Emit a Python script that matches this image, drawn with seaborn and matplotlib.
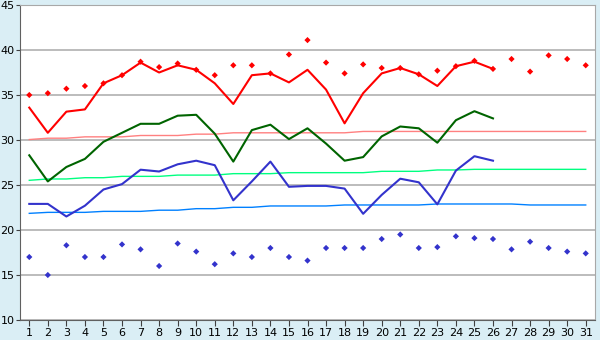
import numpy as np
import pandas as pd
import matplotlib
matplotlib.use('Agg')
import matplotlib.pyplot as plt
import seaborn as sns

# days of month
days = list(range(1, 32))

# daily max / mean / min (days 1-26)
t_max = [33.6, 30.8, 33.15, 33.4, 36.3, 37.2, 38.6, 37.5, 38.3, 37.8,
         36.3, 34.0, 37.2, 37.4, 36.4, 37.8, 35.6, 31.85, 35.2, 37.4,
         38.0, 37.3, 36.0, 38.2, 38.7, 37.9]
t_mean = [28.3, 25.4, 27.0, 27.9, 29.8, 30.8, 31.8, 31.8, 32.7, 32.8,
          30.7, 27.6, 31.1, 31.7, 30.1, 31.3, 29.6, 27.7, 28.1, 30.4,
          31.5, 31.3, 29.7, 32.2, 33.2, 32.4]
t_min = [22.9, 22.9, 21.5, 22.7, 24.5, 25.1, 26.7, 26.5, 27.3, 27.7,
         27.2, 23.3, 25.4, 27.6, 24.8, 24.9, 24.9, 24.6, 21.8, 23.9,
         25.7, 25.3, 22.85, 26.6, 28.2, 27.7]

# record highest / lowest (all days)
rec_max = [35.0, 35.2, 35.7, 36.0, 36.3, 37.2, 38.7, 38.1, 38.5, 37.8,
           37.2, 38.3, 38.3, 37.4, 39.5, 41.1, 38.6, 37.4, 38.4, 38.0,
           38.0, 37.3, 37.7, 38.2, 38.8, 37.9, 39.0, 37.6, 39.4, 39.0, 38.3]
rec_min = [17.0, 15.0, 18.3, 17.0, 17.0, 18.4, 17.85, 16.0, 18.5, 17.6,
           16.2, 17.4, 17.0, 18.0, 17.0, 16.6, 18.0, 18.0, 18.0, 19.0,
           19.5, 18.0, 18.1, 19.3, 19.1, 19.0, 17.85, 18.7, 18.0, 17.6, 17.4]

# normals
norm_max = [30.05, 30.2, 30.2, 30.35, 30.35, 30.35, 30.5, 30.5, 30.5, 30.65,
            30.65, 30.8, 30.8, 30.8, 30.8, 30.8, 30.8, 30.8, 30.95, 30.95,
            30.95, 30.95, 30.95, 30.95, 30.95, 30.95, 30.95, 30.95, 30.95, 30.95, 30.95]
norm_mean = [25.52, 25.67, 25.67, 25.81, 25.81, 25.96, 25.96, 25.96, 26.1, 26.1,
             26.1, 26.26, 26.26, 26.26, 26.37, 26.37, 26.37, 26.37, 26.37, 26.52,
             26.52, 26.52, 26.67, 26.67, 26.74, 26.74, 26.74, 26.74, 26.74, 26.74, 26.74]
norm_min = [21.85, 21.96, 21.96, 21.96, 22.07, 22.07, 22.07, 22.2, 22.2, 22.37,
            22.37, 22.52, 22.52, 22.67, 22.67, 22.67, 22.67, 22.78, 22.78, 22.78,
            22.78, 22.78, 22.89, 22.89, 22.89, 22.89, 22.89, 22.78, 22.78, 22.78, 22.78]

bg = '#daeef5'
fig = plt.figure(figsize=(6, 3.4), dpi=100, facecolor=bg)
ax = fig.add_axes([20 / 600, 20 / 340, 575 / 600, 315 / 340])
ax.set_facecolor('white')

# normals
sns.lineplot(x=days, y=norm_max, ax=ax, color='#ff8080', lw=1.0)
sns.lineplot(x=days, y=norm_mean, ax=ax, color='#00ff80', lw=1.0)
sns.lineplot(x=days, y=norm_min, ax=ax, color='#0080ff', lw=1.0)

# observed
d26 = days[:26]
sns.lineplot(x=d26, y=t_max, ax=ax, color='#ff0000', lw=1.5)
sns.lineplot(x=d26, y=t_mean, ax=ax, color='#006400', lw=1.5)
sns.lineplot(x=d26, y=t_min, ax=ax, color='#3333cc', lw=1.5)

# records
sns.scatterplot(x=days, y=rec_max, ax=ax, color='#ff0000', marker='D', s=10,
                edgecolor='none')
sns.scatterplot(x=days, y=rec_min, ax=ax, color='#3333cc', marker='D', s=10,
                edgecolor='none')

ax.set_xlim(0.5, 31.5)
ax.set_ylim(10, 45)
ax.set_xticks(days)
ax.set_yticks(range(10, 46, 5))
ax.grid(axis='y', color='#b0b0b0', lw=1.2)
ax.set_axisbelow(True)
for s in ax.spines.values():
    s.set_color('#a8a8a8')
ax.spines['left'].set_color('#606060')
ax.spines['bottom'].set_color('#606060')
ax.tick_params(axis='both', labelsize=8, length=4, color='#404040', pad=2)
ax.tick_params(axis='y', length=3, pad=1)

fig.savefig('out.png', dpi=100, facecolor=bg)
